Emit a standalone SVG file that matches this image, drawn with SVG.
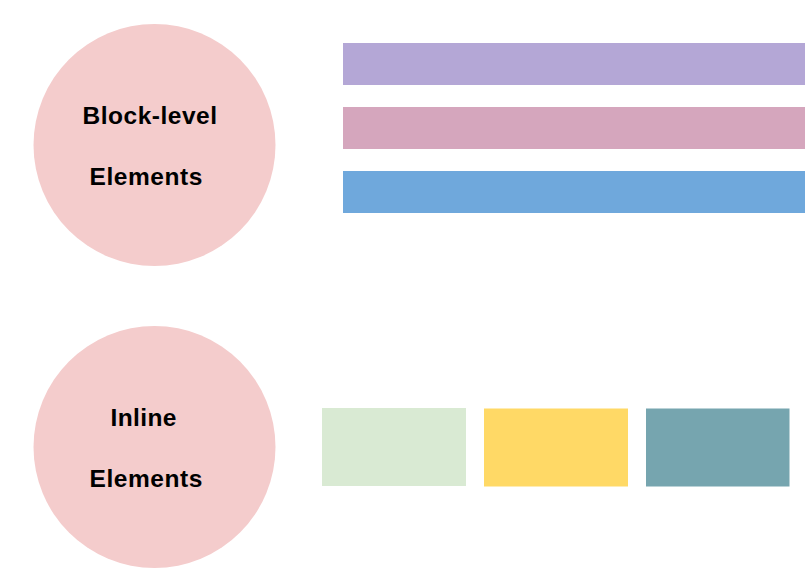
<svg xmlns="http://www.w3.org/2000/svg" width="805" height="582" viewBox="0 0 805 582">
<style>
.c{fill:#f4cccc}
.t{font-family:"Liberation Sans",Arial,sans-serif;font-weight:bold;font-size:24.5px;fill:#000}
</style>
<rect width="805" height="582" fill="#fff"/>
<g id="block-node">
<circle class="c" cx="154.5" cy="145" r="121"/>
<text class="t" x="82.5" y="124.3" textLength="134.5" lengthAdjust="spacing">Block-level</text>
<text class="t" x="89.5" y="185" textLength="113" lengthAdjust="spacing">Elements</text>
</g>
<g id="inline-node">
<circle class="c" cx="154.5" cy="447" r="121"/>
<text class="t" x="110.5" y="425.7" textLength="66" lengthAdjust="spacing">Inline</text>
<text class="t" x="89.5" y="486.7" textLength="113" lengthAdjust="spacing">Elements</text>
</g>
<g id="block-bars">
<rect x="343" y="43" width="462" height="42" fill="#b4a7d6"/>
<rect x="343" y="107" width="462" height="42" fill="#d5a6bd"/>
<rect x="343" y="171" width="462" height="42" fill="#6fa8dc"/>
</g>
<g id="inline-boxes">
<rect x="322" y="408" width="144" height="78" fill="#d9ead3"/>
<rect x="484" y="408.5" width="144" height="78" fill="#ffd966"/>
<rect x="646" y="408.5" width="143.5" height="78" fill="#76a5af"/>
</g>
<g id="connectors"></g>
</svg>
